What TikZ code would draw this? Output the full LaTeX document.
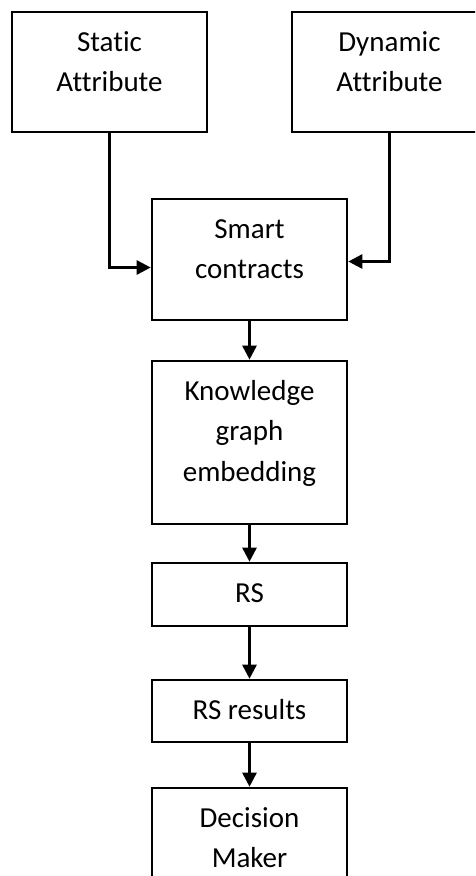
\documentclass[tikz,border=0pt]{standalone}
\usepackage{fontspec}
\setmainfont[Ligatures={NoCommon}]{Carlito}
\usetikzlibrary{arrows.meta,positioning}

\begin{document}
\begin{tikzpicture}[
    x=1pt, y=-1pt,
    block/.style={rectangle, draw, line width=2.6pt, minimum width=195pt, inner sep=0pt},
    blocktext/.style={anchor=north, yshift=-12pt, inner sep=0pt, text width=190pt, align=flush center, font=\fontsize{29}{40.5}\selectfont, execute at begin node=\strut},
    arrow/.style={line width=2.6pt, -{Triangle[length=14pt,width=14pt]}}
]
\useasboundingbox (0,0) rectangle (475,876);
\clip (0,0) rectangle (475,876);

% Top level
\node[block, minimum height=120pt, label={[blocktext]north:Static\\Attribute}] (static) at (109.5,72) {};
\node[block, minimum height=120pt, right=82.4pt of static, label={[blocktext]north:Dynamic\\Attribute}] (dynamic) {};

% Chain
\node[block, minimum height=121pt, label={[blocktext]north:Smart\\contracts}] (smart) at (249.5,259.5) {};
\node[block, minimum height=163pt, below=38.4pt of smart, label={[blocktext]north:Knowledge\\graph\\embedding}] (kge) {};
\node[block, minimum height=63pt, below=36.4pt of kge, label={[blocktext]north:RS}] (rs) {};
\node[block, minimum height=62pt, below=51.4pt of rs, label={[blocktext]north:RS results}] (rsres) {};
\node[block, minimum height=120pt, below=43.4pt of rsres, label={[blocktext]north:Decision\\Maker}] (decision) {};

% Arrows - attributes to smart contracts
\draw[arrow] (static.south) |- ([yshift=-8pt]smart.west);
\draw[arrow] (dynamic.south) |- ([yshift=-2pt]smart.east);

% Arrows - down the chain
\draw[arrow] (smart.south) -- (kge.north);
\draw[arrow] (kge.south) -- (rs.north);
\draw[arrow] (rs.south) -- (rsres.north);
\draw[arrow] (rsres.south) -- (decision.north);
\end{tikzpicture}
\end{document}
